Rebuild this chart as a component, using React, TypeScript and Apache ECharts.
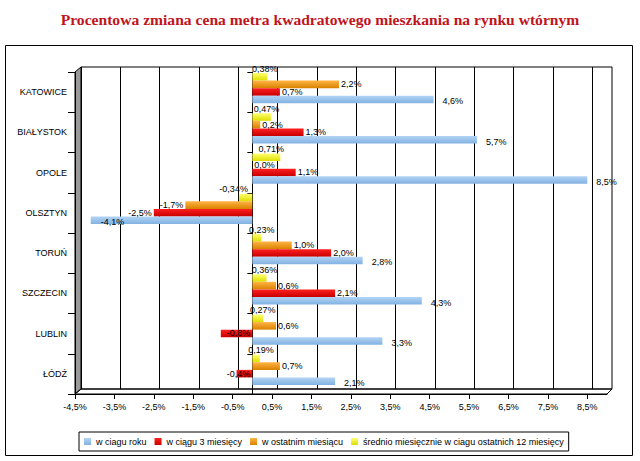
import React, { useEffect, useRef } from "react";
import * as echarts from "echarts";

const titleText = "Procentowa zmiana cena metra kwadratowego mieszkania na rynku wtórnym";
const categories = ["KATOWICE", "BIAŁYSTOK", "OPOLE", "OLSZTYN", "TORUŃ", "SZCZECIN", "LUBLIN", "ŁÓDŹ"];
const seriesNames = [
  "w ciagu roku",
  "w ciągu 3 miesięcy",
  "w ostatnim miesiącu",
  "średnio miesięcznie w ciagu ostatnich 12 miesięcy",
];
const yearValues = [4.6, 5.7, 8.5, -4.1, 2.8, 4.3, 3.3, 2.1];
const threeMonthValues = [0.7, 1.3, 1.1, -2.5, 2.0, 2.1, -0.8, -0.4];
const lastMonthValues = [2.2, 0.2, 0.0, -1.7, 1.0, 0.6, 0.6, 0.7];
const monthlyAvgValues = [0.38, 0.47, 0.71, -0.34, 0.23, 0.36, 0.27, 0.19];
const tickValues = [-4.5, -3.5, -2.5, -1.5, -0.5, 0.5, 1.5, 2.5, 3.5, 4.5, 5.5, 6.5, 7.5, 8.5];
const axisMin = -4.5;
const axisMax = 9;

const FONT = 'Arial, "Liberation Sans", sans-serif';
const fmt1 = (v: number) => v.toFixed(1).replace(".", ",") + "%";
const fmt2 = (v: number) => v.toFixed(2).replace(".", ",") + "%";
const grad = (top: string, bottom: string) =>
  new echarts.graphic.LinearGradient(0, 0, 0, 1, [
    { offset: 0, color: top },
    { offset: 1, color: bottom },
  ]);

export default function App() {
  const ref = useRef<HTMLDivElement>(null);
  useEffect(() => {
    if (!ref.current) return;
    const chart = echarts.init(ref.current, null, { renderer: "svg" });
    const labelBase = { show: true, fontSize: 9, fontFamily: FONT, color: "#000" };
    const isTick = (v: number) => tickValues.some((t) => Math.abs(t - v) < 1e-6);
    chart.setOption({
      animation: false,
      backgroundColor: "#fff",
      title: {
        text: titleText,
        left: "center",
        top: 6,
        textStyle: {
          color: "#c0141c",
          fontFamily: '"Liberation Serif", "Times New Roman", serif',
          fontSize: 15.6,
          fontWeight: "bold",
        },
      },
      legend: {
        data: [seriesNames[0], seriesNames[1], seriesNames[2], seriesNames[3]],
        left: 79,
        top: 432,
        padding: [5, 5],
        borderColor: "#000",
        borderWidth: 1,
        itemWidth: 7,
        itemHeight: 7,
        itemGap: 8,
        icon: "rect",
        textStyle: { fontSize: 9, fontFamily: FONT, color: "#000" },
      },
      grid: [
        { left: 81, right: 28, top: 67, bottom: 72, show: true, borderColor: "#000", borderWidth: 1, backgroundColor: "transparent" },
        { left: 75, right: 33, top: 72, bottom: 67 },
        { left: 75, right: 33, top: 68, bottom: 71 },
      ],
      xAxis: [
        {
          type: "value", gridIndex: 0, min: axisMin, max: axisMax, interval: 0.5,
          axisLine: { show: false }, axisTick: { show: false }, axisLabel: { show: false },
          splitLine: { show: true, lineStyle: { color: ["#000", "rgba(0,0,0,0)"], width: 1 } },
        },
        {
          type: "value", gridIndex: 1, min: axisMin, max: axisMax, interval: 0.5,
          axisLine: { show: true, lineStyle: { color: "#000", width: 1 } },
          axisTick: { show: true, length: 5, customValues: tickValues, lineStyle: { color: "#000" } },
          axisLabel: {
            show: true, customValues: tickValues, margin: 8, fontSize: 9, fontFamily: FONT, color: "#000",
            formatter: (v: number) => (isTick(v) ? fmt1(v) : ""),
          },
          splitLine: { show: false },
        },
        {
          type: "value", gridIndex: 2, min: axisMin, max: axisMax, show: false,
          splitLine: { show: false },
        },
      ],
      yAxis: [
        { type: "category", gridIndex: 0, data: categories, inverse: true, show: false },
        {
          type: "category", gridIndex: 1, data: categories, inverse: true, position: "left",
          axisLine: { show: true, onZero: false, lineStyle: { color: "#000" } },
          axisTick: { show: true, length: 7, lineStyle: { color: "#000" } },
          axisLabel: { show: true, margin: 8, fontSize: 9, fontFamily: FONT, color: "#000" },
        },
        {
          type: "category", gridIndex: 1, data: categories, inverse: true, position: "left",
          axisLine: { show: true, onZero: true, lineStyle: { color: "#000" } },
          axisTick: { show: true, length: 5, lineStyle: { color: "#000" } },
          axisLabel: { show: false },
        },
        { type: "category", gridIndex: 2, data: categories, inverse: true, show: false },
      ],
      graphic: [
        {
          type: "rect", silent: true, z: 100,
          shape: { x: 5.5, y: 45.5, width: 627, height: 410 },
          style: { fill: "none", stroke: "#000", lineWidth: 1 },
        },
        {
          type: "polygon", silent: true,
          shape: { points: [[75, 72], [81, 67], [81, 389], [75, 394]] },
          style: { fill: "#9a9a9a", stroke: "#000", lineWidth: 1 },
        },
        {
          type: "polygon", silent: true,
          shape: { points: [[75, 394], [81, 389], [612, 389], [607, 394]] },
          style: { fill: "none", stroke: "#000", lineWidth: 1 },
        },
      ],
      series: [
        {
          name: seriesNames[3], type: "bar", xAxisIndex: 2, yAxisIndex: 3,
          data: monthlyAvgValues.map((v) => (v < 0 ? { value: v, label: { offset: [-12, 0] } } : v)),
          itemStyle: { color: grad("#ffff70", "#dede00") },
          label: { ...labelBase, position: "top", distance: 0, offset: [5, 0], formatter: (p: any) => fmt2(p.value) },
        },
        {
          name: seriesNames[2], type: "bar", xAxisIndex: 2, yAxisIndex: 3, data: lastMonthValues,
          itemStyle: { color: grad("#ffb445", "#d98200") },
          label: { ...labelBase, position: "outside", distance: 2, formatter: (p: any) => fmt1(p.value) },
        },
        {
          name: seriesNames[1], type: "bar", xAxisIndex: 2, yAxisIndex: 3,
          data: threeMonthValues.map((v) => (v < 0 && v > -1 ? { value: v, label: { position: "insideRight" } } : v)),
          itemStyle: { color: grad("#ff2020", "#c80000") },
          label: { ...labelBase, position: "outside", distance: 2, formatter: (p: any) => fmt1(p.value) },
        },
        {
          name: seriesNames[0], type: "bar", xAxisIndex: 2, yAxisIndex: 3,
          data: yearValues.map((v) => (v < 0 ? { value: v, label: { position: "insideLeft", distance: 10 } } : v)),
          barGap: "0%", barCategoryGap: "25%",
          itemStyle: { color: grad("#b3d4f5", "#82b2e2") },
          label: { ...labelBase, position: "outside", distance: 9, offset: [0, 2], formatter: (p: any) => fmt1(p.value) },
        },
      ],
    });
    return () => chart.dispose();
  }, []);
  return (
    <div
      ref={ref}
      style={{ position: "fixed", left: 0, top: 0, width: 640, height: 461, background: "#fff" }}
    />
  );
}
